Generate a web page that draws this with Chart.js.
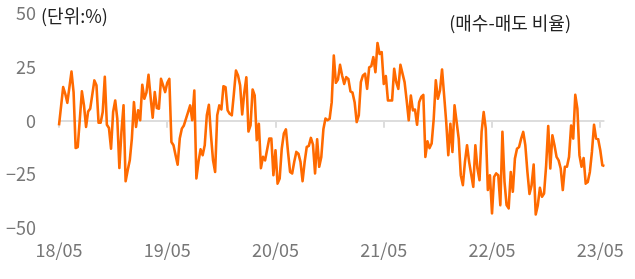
<!DOCTYPE html>
<html>
<head>
<meta charset="utf-8">
<script src="https://cdn.jsdelivr.net/npm/chart.js@4"></script>
<style>
  body { margin: 0; background: #fff; }
  canvas { display: block; }
</style>
</head>
<body>
<canvas id="ratioChart" width="635" height="279"></canvas>
<script>
// weekly buy-sell ratio (%), week 0 = 2018/05, null = not read
const ratio = [
    -2.2, null, 15.6, 12.5, 8.3, null, 22.8, 13.3, -12.7, -12.2,
    null, 13.6, 7.1, -2.9, 4.3, 5.6, null, 18.7, 16.4, -0.9,
    -0.9, 4.0, 20.4, -1.9, -3.4, -13.0, 4.0, 9.4, 0.9, -21.9,
    -5.2, 7.1, -28.1, -23.0, -18.4, -8.3, 8.6, -2.9, 4.8, 0.2,
    16.7, 10.2, 13.0, 21.3, 11.0, 1.4, 13.3, 5.9, 5.6, 19.4,
    16.4, 13.3, 17.6, 19.4, -9.9, -11.4, -16.0, -20.4, -8.3, -3.7,
    -2.2, null, 4.0, 7.1, 0.2, 14.0, -26.8, -19.1, -13.3, -16.0,
    -11.4, 2.5, 7.4, -6.8, -18.4, -23.8, 2.5, 7.1, 5.2, 16.0,
    15.6, 4.8, 3.2, 2.5, 12.5, 23.3, 21.0, 16.4, 2.9, 13.0,
    20.2, -5.0, -2.2, 14.5, 11.7, -9.0, -1.4, -22.0, -16.8, -18.4,
    null, -8.3, -8.3, -25.3, -13.7, -29.2, -26.8, -13.0, -6.0, -4.0,
    -14.5, -23.8, -24.5, -19.1, -14.5, -15.3, -19.1, -28.1, -19.1, -12.2,
    -11.7, -8.0, -11.1, -24.5, -8.6, -21.4, -16.8, -4.0, 1.0, 0.2,
    0.9, 8.6, 30.2, 17.6, 19.1, 25.9, 21.0, 17.1, 20.2, 19.4,
    13.6, 13.0, 8.6, -0.6, 2.5, 17.9, 21.0, 21.8, 14.8, 24.8,
    25.3, 29.5, 22.5, 36.1, 31.0, 31.8, 17.1, 20.7, 9.4, 9.4,
    9.4, 24.1, 17.9, 14.8, 25.9, null, 17.9, 9.4, 0.2, 11.7,
    4.8, 5.2, -1.9, 8.6, 11.0, 12.0, -16.8, -9.6, -12.7, -10.6,
    0.9, 18.7, 10.2, 14.0, 23.8, 11.7, -0.6, -16.0, -1.4, -14.5,
    7.1, -0.6, -8.3, -25.3, -29.9, -19.1, -11.4, -19.1, null, -30.7,
    -11.4, -22.2, -27.6, -5.2, 4.0, -3.7, -32.2, -25.3, -43.0, -26.1,
    -24.5, -25.3, -39.2, -5.2, -28.4, -39.2, -40.7, -23.8, -33.0, -17.6,
    -13.0, -12.2, -8.3, -5.2, -11.4, -23.8, -34.0, -30.0, -20.4, -43.5,
    -39.2, -31.2, -35.3, -33.8, -20.7, -2.5, -22.2, -6.8, -11.4, -16.8,
    -18.4, -22.2, -32.2, -21.4, -21.4, -16.8, -2.2, -8.3, 12.0, 5.6,
    -16.0, -21.4, -17.3, -29.2, -28.4, -23.8, -14.5, -1.9, -8.3, -8.6,
    -13.7, -20.7, -21.0
];
const tickWeeks = [0, 52, 104, 156, 208, 260];
const tickLabels = ['18/05', '19/05', '20/05', '21/05', '22/05', '23/05'];
const yTicks = [-50, -25, 0, 25, 50];
const unitText = '(단위:%)';
const seriesText = '(매수-매도 비율)';

const LINE_COLOR = '#ff6a00';
const GRID_COLOR = '#dddddd';
const TICK_COLOR = '#777777';

Chart.defaults.font.family = "'Noto Sans CJK KR', 'Noto Sans', sans-serif";

// small year ticks hanging under the zero line + the two captions
const decorPlugin = {
    id: 'decor',
    beforeDatasetsDraw(chart) {
        const { ctx, scales: { x, y } } = chart;
        const y0 = y.getPixelForValue(0);
        ctx.save();
        ctx.strokeStyle = GRID_COLOR;
        ctx.lineWidth = 2;
        tickWeeks.forEach(w => {
            const px = Math.round(x.getPixelForValue(w));
            ctx.beginPath();
            ctx.moveTo(px, y0);
            ctx.lineTo(px, y0 + 7);
            ctx.stroke();
        });
        ctx.restore();
    },
    afterDraw(chart) {
        const ctx = chart.ctx;
        ctx.save();
        ctx.fillStyle = '#222';
        ctx.font = "18px 'Noto Sans CJK KR', sans-serif";
        ctx.textBaseline = 'middle';
        ctx.textAlign = 'left';
        ctx.fillText(unitText, 41, 16);
        ctx.textAlign = 'right';
        ctx.fillText(seriesText, 571, 23);
        ctx.restore();
    }
};

new Chart(document.getElementById('ratioChart'), {
    type: 'line',
    data: {
        datasets: [{
            data: ratio.map((v, i) => ({ x: i, y: v })),
            borderColor: LINE_COLOR,
            borderWidth: 2.6,
            pointRadius: 0,
            tension: 0,
            spanGaps: true,
            borderJoinStyle: 'round',
            clip: false
        }]
    },
    options: {
        responsive: false,
        animation: false,
        layout: { padding: { top: 13, right: 29, bottom: 7, left: 0 } },
        plugins: { legend: { display: false }, tooltip: { enabled: false } },
        scales: {
            x: {
                type: 'linear',
                min: 0,
                max: 262,
                afterBuildTicks: s => { s.ticks = tickWeeks.map(v => ({ value: v })); },
                ticks: {
                    color: TICK_COLOR,
                    font: { size: 18 },
                    padding: 11,
                    maxRotation: 0,
                    autoSkip: false,
                    callback: (v) => tickLabels[tickWeeks.indexOf(v)]
                },
                grid: { display: false, drawTicks: false },
                border: { display: false }
            },
            y: {
                min: -50,
                max: 50,
                afterBuildTicks: s => { s.ticks = yTicks.map(v => ({ value: v })); },
                afterFit: s => { s.width = 59; s.paddingTop = 0; s.paddingBottom = 0; },
                ticks: {
                    color: TICK_COLOR,
                    font: { size: 18 },
                    padding: 23,
                    callback: v => (v < 0 ? '\u2212' + Math.abs(v) : String(v))
                },
                grid: {
                    drawTicks: false,
                    lineWidth: 2,
                    color: c => (c.tick && c.tick.value === 0 ? GRID_COLOR : 'rgba(0,0,0,0)')
                },
                border: { display: false }
            }
        }
    },
    plugins: [decorPlugin]
});
</script>
</body>
</html>
